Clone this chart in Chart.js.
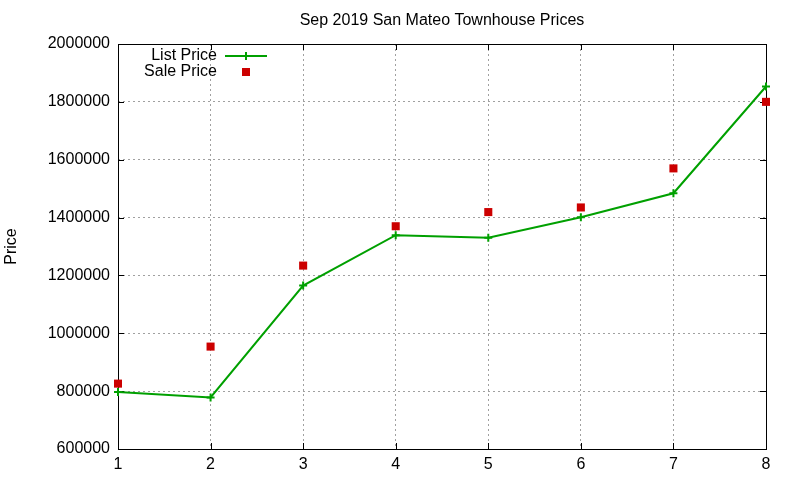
<!DOCTYPE html>
<html>
<head>
<meta charset="utf-8">
<title>Sep 2019 San Mateo Townhouse Prices</title>
<script src="https://cdn.jsdelivr.net/npm/chart.js@4.4.0/dist/chart.umd.min.js"></script>
<style>
    html, body { margin: 0; padding: 0; background: #fff; }
    canvas { display: block; }
</style>
</head>
<body>
<canvas id="priceChart" width="800" height="480"></canvas>
<script>
// Chart data
const months = [1, 2, 3, 4, 5, 6, 7, 8];
const listPrice = [797000, 778000, 1165000, 1339000, 1330000, 1401000, 1484000, 1853000];
const salePrice = [826000, 954000, 1234000, 1370000, 1419000, 1435000, 1570000, 1800000];
const yTicks = [600000, 800000, 1000000, 1200000, 1400000, 1600000, 1800000, 2000000];

const FONT = '"Liberation Sans", Arial, sans-serif';
const GREEN = '#00a000';
const RED = '#cc0000';

// Frame, inward ticks, title, axis label and legend in gnuplot style
const gnuplotDecor = {
    id: 'gnuplotDecor',
    beforeDatasetsDraw(chart) {
        const ctx = chart.ctx;
        const a = chart.chartArea;
        const xs = chart.scales.x;
        const ys = chart.scales.y;
        ctx.save();

        // tick marks (inward, mirrored)
        ctx.strokeStyle = '#000';
        ctx.lineWidth = 1;
        ctx.beginPath();
        months.forEach(m => {
            const px = Math.round(xs.getPixelForValue(m)) + 0.5;
            ctx.moveTo(px, a.bottom); ctx.lineTo(px, a.bottom - 6);
            ctx.moveTo(px, a.top); ctx.lineTo(px, a.top + 6);
        });
        yTicks.forEach(v => {
            const py = Math.round(ys.getPixelForValue(v)) + 0.5;
            ctx.moveTo(a.left, py); ctx.lineTo(a.left + 6, py);
            ctx.moveTo(a.right, py); ctx.lineTo(a.right - 6, py);
        });
        ctx.stroke();

        // frame
        ctx.strokeRect(Math.round(a.left) + 0.5, Math.round(a.top) + 0.5,
            Math.round(a.right - a.left), Math.round(a.bottom - a.top));
        ctx.restore();
    },
    afterDraw(chart) {
        const ctx = chart.ctx;
        const a = chart.chartArea;
        ctx.save();

        // title
        ctx.fillStyle = '#000';
        ctx.font = '16px ' + FONT;
        ctx.textAlign = 'center';
        ctx.textBaseline = 'middle';
        ctx.fillText('Sep 2019 San Mateo Townhouse Prices', (a.left + a.right) / 2, 21);

        // y axis label
        ctx.save();
        ctx.translate(12, (a.top + a.bottom) / 2);
        ctx.rotate(-Math.PI / 2);
        ctx.fillText('Price', 0, 0);
        ctx.restore();

        // legend
        ctx.textAlign = 'right';
        ctx.fillText('List Price', 217, 56);
        ctx.fillText('Sale Price', 217, 72);
        ctx.strokeStyle = GREEN;
        ctx.lineWidth = 2;
        ctx.beginPath();
        ctx.moveTo(225, 56); ctx.lineTo(267, 56);
        ctx.moveTo(246, 52); ctx.lineTo(246, 60);
        ctx.stroke();
        ctx.fillStyle = RED;
        ctx.fillRect(242, 68, 8, 8);

        ctx.restore();
    }
};

function initPriceChart() {
    const ctx = document.getElementById('priceChart').getContext('2d');
    new Chart(ctx, {
        type: 'line',
        data: {
            datasets: [{
                label: 'List Price',
                data: months.map((m, i) => ({ x: m, y: listPrice[i] })),
                borderColor: GREEN,
                backgroundColor: GREEN,
                borderWidth: 2,
                pointStyle: 'cross',
                pointRadius: 4,
                pointBorderWidth: 2,
                pointHoverRadius: 4,
                tension: 0,
                fill: false,
                clip: false
            }, {
                label: 'Sale Price',
                data: months.map((m, i) => ({ x: m, y: salePrice[i] })),
                showLine: false,
                borderColor: RED,
                backgroundColor: RED,
                pointStyle: 'rect',
                pointRadius: 5.7,
                pointBorderWidth: 0,
                pointHoverRadius: 5.7,
                clip: false
            }]
        },
        options: {
            responsive: false,
            animation: false,
            devicePixelRatio: 1,
            layout: {
                padding: { top: 44, right: 34, left: 0, bottom: 0 }
            },
            plugins: {
                legend: { display: false },
                title: { display: false },
                tooltip: { enabled: false }
            },
            scales: {
                x: {
                    type: 'linear',
                    min: 1,
                    max: 8,
                    afterFit: scale => { scale.height = 31; },
                    afterBuildTicks: scale => { scale.ticks = months.map(v => ({ value: v })); },
                    grid: {
                        color: '#a0a0a0',
                        lineWidth: 1,
                        drawTicks: false
                    },
                    border: { display: false, dash: [2, 3] },
                    ticks: {
                        color: '#000',
                        font: { family: FONT, size: 16 },
                        padding: 6,
                        maxRotation: 0
                    }
                },
                y: {
                    min: 600000,
                    max: 2000000,
                    afterFit: scale => { scale.width = 118; },
                    afterBuildTicks: scale => { scale.ticks = yTicks.map(v => ({ value: v })); },
                    grid: {
                        color: '#a0a0a0',
                        lineWidth: 1,
                        drawTicks: false
                    },
                    border: { display: false, dash: [2, 3] },
                    ticks: {
                        color: '#000',
                        font: { family: FONT, size: 16 },
                        padding: 8,
                        callback: v => String(v)
                    }
                }
            }
        },
        plugins: [gnuplotDecor]
    });
}

window.addEventListener('load', initPriceChart);
</script>
</body>
</html>
